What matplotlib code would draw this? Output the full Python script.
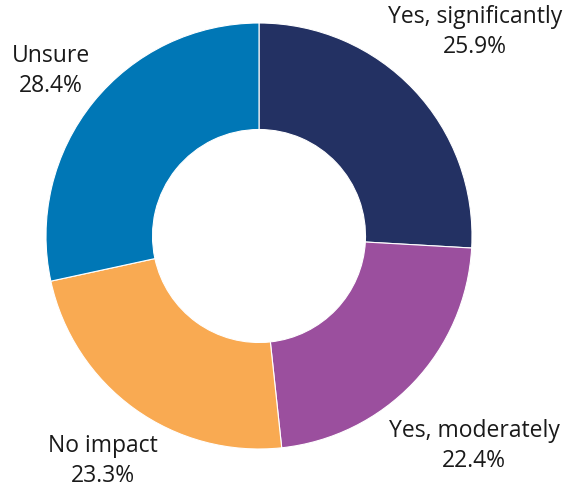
import matplotlib
matplotlib.use("Agg")
import matplotlib.pyplot as plt

categories = ["Yes, significantly", "Yes, moderately", "No impact", "Unsure"]
values = [25.9, 22.4, 23.3, 28.4]
colors = ["#233163", "#9b4f9e", "#f9aa52", "#0077b6"]

plt.rcParams['font.family'] = ['Open Sans', 'DejaVu Sans']

fig = plt.figure(figsize=(5.69, 4.87), dpi=100)
ax = fig.add_axes([0, 0, 1, 1])

cx, cy, R = 259, 251, 213
ax.pie(values, colors=colors, startangle=90, counterclock=False,
       center=(cx, cy), radius=R, frame=True,
       wedgeprops=dict(width=R * 0.5, edgecolor='white', linewidth=0.8))
ax.set_xlim(0, 569)
ax.set_ylim(0, 487)
ax.set_aspect('equal')
ax.axis('off')

label_pos = [(475, 455), (474, 41), (103, 26), (51, 416)]
for cat, v, (x, y) in zip(categories, values, label_pos):
    ax.text(x, y, f"{cat}\n{v:.1f}%", ha='center', va='center',
            fontsize=16.5, color='#1a1a1a', linespacing=1.3)

fig.savefig("out.png", dpi=100)
